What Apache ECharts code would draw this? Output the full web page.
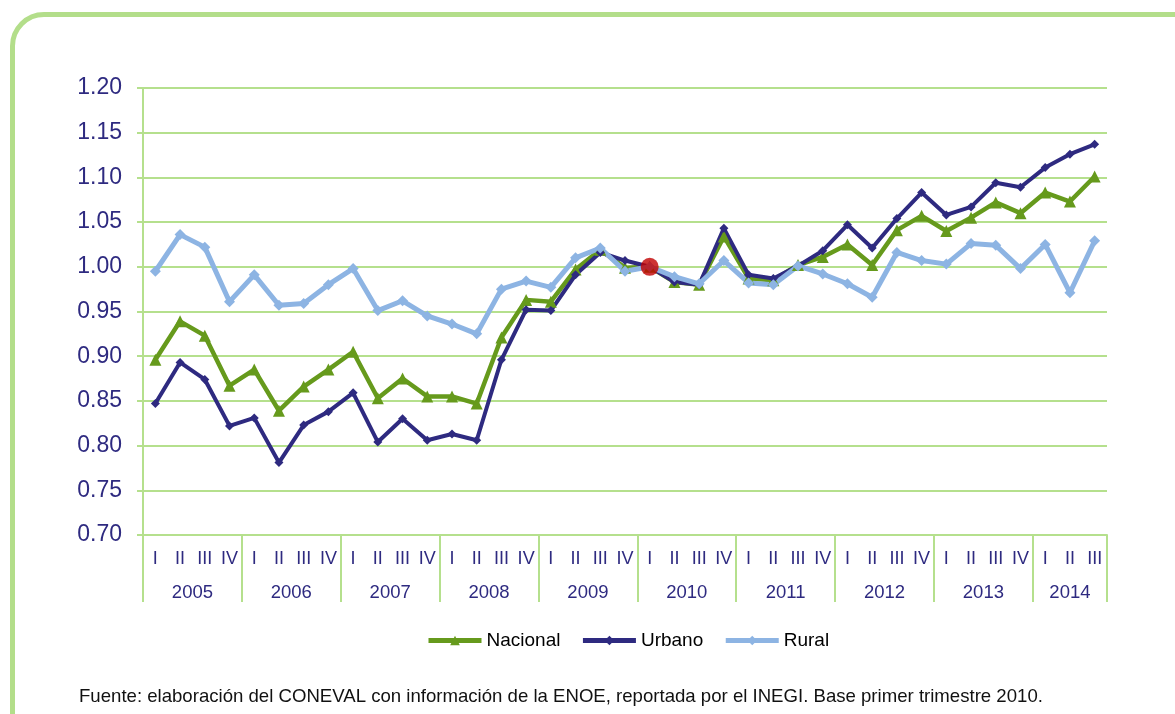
<!DOCTYPE html>
<html>
<head>
<meta charset="utf-8">
<script src="https://cdn.jsdelivr.net/npm/echarts@6/dist/echarts.min.js"></script>
<style>
  html, body { margin: 0; padding: 0; background: #fff; overflow: hidden; }
  #frame {
    position: absolute; left: 10px; top: 12px; width: 1220px; height: 760px;
    border: 5px solid #b3de8a; border-radius: 34px; box-sizing: border-box;
  }
  #chart { position: absolute; left: 0; top: 0; width: 1175px; height: 714px; }
</style>
</head>
<body>
<div id="frame"></div>
<div id="chart"></div>
<script>
// trimestres 2005 I .. 2014 III
const quarters = [];
const years = [2005, 2006, 2007, 2008, 2009, 2010, 2011, 2012, 2013, 2014];
years.forEach(y => ["I", "II", "III", "IV"].forEach(q => {
  if (!(y === 2014 && q === "IV")) quarters.push(q);
}));

const nacional = [
  0.896, 0.939, 0.923, 0.867, 0.885, 0.839, 0.866, 0.885,
  0.905, 0.853, 0.875, 0.855, 0.855, 0.847, 0.921, 0.963,
  0.961, 0.997, 1.019, 0.999, 1.000, 0.983, 0.980, 1.034,
  0.987, 0.985, 1.002, 1.011, 1.025, 1.002, 1.041, 1.057,
  1.040, 1.055, 1.072, 1.060, 1.083, 1.073, 1.101
];
const urbano = [
  0.847, 0.893, 0.874, 0.822, 0.831, 0.781, 0.823, 0.838,
  0.859, 0.804, 0.830, 0.806, 0.813, 0.806, 0.896, 0.952,
  0.951, 0.991, 1.016, 1.007, 1.000, 0.983, 0.980, 1.043,
  0.991, 0.987, 1.001, 1.018, 1.047, 1.021, 1.054, 1.083,
  1.058, 1.067, 1.094, 1.089, 1.111, 1.126, 1.137
];
const rural = [
  0.995, 1.036, 1.022, 0.961, 0.991, 0.957, 0.959, 0.980,
  0.998, 0.951, 0.962, 0.945, 0.936, 0.925, 0.975, 0.984,
  0.977, 1.010, 1.021, 0.995, 1.000, 0.989, 0.981, 1.007,
  0.982, 0.980, 1.001, 0.992, 0.981, 0.966, 1.016, 1.007,
  1.003, 1.026, 1.024, 0.998, 1.025, 0.971, 1.029
];
// punto base: primer trimestre 2010
const base = quarters.map((q, i) => (i === 20 ? 1.0 : null));

// limites de año y centros (en unidades de trimestre)
const yearTicks = [0, 4, 8, 12, 16, 20, 24, 28, 32, 36, 39];
const yearCenters = [2, 6, 10, 14, 18, 22, 26, 30, 34, 37.5];

const green = "#b5e08d";
const navy = "#2e2a80";
const lineGreen = { color: green, width: 2 };
const font = "Liberation Sans";

const chart = echarts.init(document.getElementById("chart"));
chart.setOption({
  animation: false,
  title: {
    text: "Fuente: elaboración del CONEVAL con información de la ENOE, reportada por el INEGI. Base primer trimestre 2010.",
    left: 74, top: 682,
    textStyle: { fontFamily: font, fontSize: 18.6, fontWeight: "normal", color: "#111" }
  },
  legend: {
    top: 626, left: 421,
    itemWidth: 53, itemHeight: 12, itemGap: 20,
    lineStyle: { width: 5 },
    textStyle: { fontFamily: font, fontSize: 19, color: "#000" },
    data: ["Nacional", "Urbano", "Rural"]
  },
  grid: { left: 143, right: 68, top: 88, bottom: 179, containLabel: false },
  xAxis: [
    {
      type: "category", data: quarters, boundaryGap: true,
      axisLine: { lineStyle: lineGreen },
      axisTick: { interval: 0, length: 33, lineStyle: lineGreen },
      axisLabel: { interval: 0, margin: 15, color: navy, fontFamily: font, fontSize: 18 },
      splitLine: { show: false }
    },
    {
      type: "value", position: "bottom", offset: 0, min: 0, max: 39,
      axisLine: { show: false },
      splitLine: { show: false },
      axisTick: { show: true, length: 67, customValues: yearTicks, lineStyle: lineGreen },
      axisLabel: {
        customValues: yearCenters, margin: 48, color: navy,
        fontFamily: font, fontSize: 18.5,
        formatter: v => String(years[Math.floor(v / 4)])
      }
    }
  ],
  yAxis: {
    type: "value", min: 0.7, max: 1.2, interval: 0.05,
    axisLine: { show: true, lineStyle: lineGreen },
    axisTick: { show: true, length: 6, lineStyle: lineGreen },
    axisLabel: { margin: 21, color: navy, fontFamily: font, fontSize: 23, formatter: v => v.toFixed(2) },
    splitLine: { lineStyle: lineGreen }
  },
  series: [
    {
      name: "Nacional", type: "line", data: nacional, xAxisIndex: 0,
      symbol: "triangle", symbolSize: 12,
      lineStyle: { color: "#669a1c", width: 4.5 },
      itemStyle: { color: "#669a1c" }
    },
    {
      name: "Urbano", type: "line", data: urbano, xAxisIndex: 0,
      symbol: "diamond", symbolSize: 9,
      lineStyle: { color: "#2e2a80", width: 4 },
      itemStyle: { color: "#2e2a80" }
    },
    {
      name: "Rural", type: "line", data: rural, xAxisIndex: 0,
      symbol: "diamond", symbolSize: 11,
      lineStyle: { color: "#8db4e3", width: 5 },
      itemStyle: { color: "#8db4e3" }
    },
    {
      name: "Base", type: "scatter", data: base, xAxisIndex: 0,
      symbol: "circle", symbolSize: 18, z: 5,
      itemStyle: { color: "#c00000" }
    }
  ]
});
</script>
</body>
</html>
